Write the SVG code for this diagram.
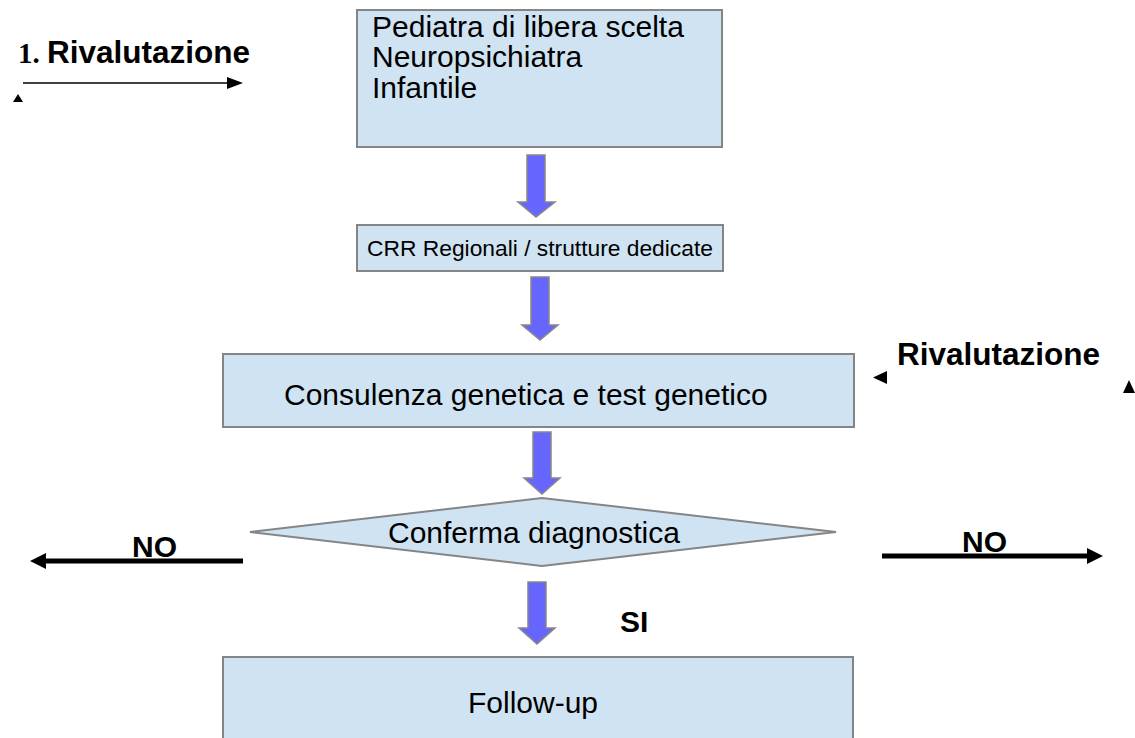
<svg xmlns="http://www.w3.org/2000/svg" width="1135" height="738" viewBox="0 0 1135 738">
  <style>
    .box { fill: #cfe3f2; stroke: #858585; stroke-width: 2; }
    .flow { fill: #6666ff; stroke: #888888; stroke-width: 1.5; }
    .t { font-family: "Liberation Sans", Arial, sans-serif; font-size: 30px; fill: #000; }
    .small { font-family: "Liberation Sans", Arial, sans-serif; font-size: 22.8px; fill: #000; }
    .b { font-family: "Liberation Sans", Arial, sans-serif; font-size: 30px; font-weight: bold; fill: #000; }
    .rv { font-family: "Liberation Sans", Arial, sans-serif; font-size: 31.5px; font-weight: bold; fill: #000; }
    .serif { font-family: "Liberation Serif", "Times New Roman", serif; font-size: 29px; font-weight: bold; fill: #000; }
    .thick { stroke: #000; stroke-width: 5; fill: none; }
    .thin { stroke: #000; stroke-width: 1.5; fill: none; }
  </style>
  <rect width="1135" height="738" fill="#ffffff"/>

  <g id="node-pediatra">
    <rect class="box" x="357" y="10" width="365" height="137"/>
    <text class="t" x="372" y="37">Pediatra di libera scelta</text>
    <text class="t" x="372" y="67">Neuropsichiatra</text>
    <text class="t" x="372" y="98">Infantile</text>
  </g>

  <g id="node-crr">
    <rect class="box" x="357" y="225" width="366" height="46"/>
    <text class="small" x="540" y="256" text-anchor="middle">CRR Regionali / strutture dedicate</text>
  </g>

  <g id="node-consulenza">
    <rect class="box" x="223" y="354" width="631" height="73"/>
    <text class="t" x="284" y="405">Consulenza genetica e test genetico</text>
  </g>

  <g id="node-conferma">
    <polygon class="box" points="250,532 542,498 836,532 542,566"/>
    <text class="t" x="388" y="543">Conferma diagnostica</text>
  </g>

  <g id="node-followup">
    <rect class="box" x="223" y="657" width="630" height="90"/>
    <text class="t" x="468" y="713">Follow-up</text>
  </g>

  <g id="connectors">
    <polygon class="flow" points="527,155 545,155 545,202 555,202 536,217 518,202 527,202"/>
    <polygon class="flow" points="531,277 549,277 549,325 558,325 540,340 522,325 531,325"/>
    <polygon class="flow" points="533,432 551,432 551,478 560,478 542,494 524,478 533,478"/>
    <polygon class="flow" points="528,582 546,582 546,628 555,628 537,644 519,628 528,628"/>

    <line class="thick" x1="243" y1="561" x2="44" y2="561"/>
    <polygon points="30,561 46,553 46,569" fill="#000"/>
    <line class="thick" x1="882" y1="556" x2="1089" y2="556"/>
    <polygon points="1103,556 1087,548 1087,564" fill="#000"/>

    <line class="thin" x1="23" y1="83" x2="230" y2="83"/>
    <polygon points="243,83 227,77 227,89" fill="#000"/>
    <polygon points="18,94 13,102 23,102" fill="#000"/>

    <polygon points="873,377.5 887,371 887,384" fill="#000"/>
    <polygon points="1129,380 1123,393 1135,393" fill="#000"/>
  </g>

  <g id="labels">
    <text class="serif" x="18" y="63">1.</text>
    <text class="rv" x="47" y="63">Rivalutazione</text>
    <text class="rv" x="897" y="365">Rivalutazione</text>
    <text class="b" x="132" y="557">NO</text>
    <text class="b" x="962" y="552">NO</text>
    <text class="b" x="620" y="632">SI</text>
  </g>
</svg>
